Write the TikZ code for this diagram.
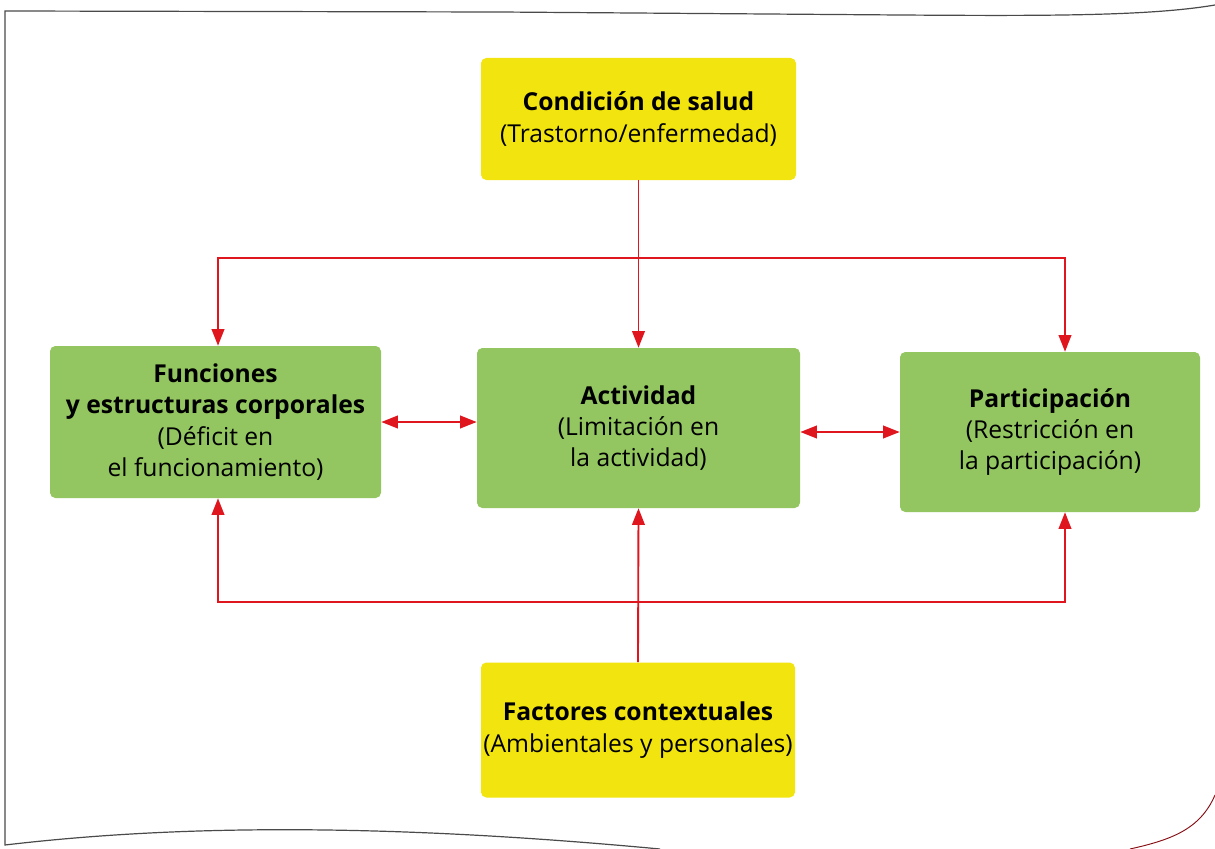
\documentclass[tikz,border=0pt]{standalone}
\usepackage{fontspec}
\setmainfont{Open Sans}
\usetikzlibrary{arrows.meta}
\definecolor{ylw}{HTML}{F2E50F}
\definecolor{grn}{HTML}{93C660}
\definecolor{arrred}{HTML}{E0161F}
\definecolor{framec}{HTML}{4A4A4A}
\begin{document}
\begin{tikzpicture}[x=0.75pt,y=-0.75pt,
  box/.style={rounded corners=4pt, inner sep=0pt, align=center, font=\fontsize{18.5}{23.5}\selectfont},
  ybox/.style={box, fill=ylw},
  gbox/.style={box, fill=grn},
  tip/.tip={Triangle[length=12.5pt,width=9.5pt]},
  arr/.style={draw=arrred, line width=1.4pt, -tip},
  darr/.style={draw=arrred, line width=1.4pt, tip-tip},
  frame/.style={draw=framec, line width=0.9pt}
]
\useasboundingbox (0,0) rectangle (1215,849);
\fill[white] (0,0) rectangle (1215,849);
% page frame
\draw[frame] (1215,5) .. controls (1150,16) and (1050,16) .. (900,15) -- (500,12) -- (5,11) -- (5,845)
  .. controls (150,828) and (350,820) .. (660,849);
\draw[arrred!60!black, line width=0.7pt] (1215,795) .. controls (1200,830) and (1170,840) .. (1130,849);

% boxes
\node[ybox, minimum width=236.25pt, minimum height=91.5pt] (cond) at (638.5,119)
  {\textbf{Condición de salud}\\(Trastorno/enfermedad)};
\node[ybox, minimum width=235.5pt, minimum height=101.25pt] (fact) at (638,730)
  {\textbf{Factores contextuales}\\(Ambientales y personales)};
\node[gbox, minimum width=248.25pt, minimum height=114pt] (func) at (215.5,422)
  {\textbf{Funciones}\\\textbf{y estructuras corporales}\\(Déficit en\\el funcionamiento)};
\node[gbox, minimum width=242.25pt, minimum height=120pt] (act) at (638.5,428)
  {\textbf{Actividad}\\(Limitación en\\la actividad)};
\node[gbox, minimum width=225pt, minimum height=120pt] (part) at (1050,432)
  {\textbf{Participación}\\(Restricción en\\la participación)};

% connectors
\draw[arr] (cond.south) -- (act.north);
\draw[arr] (fact.north) -- (act.south);
\coordinate (tl) at (218,258);
\coordinate (tr) at (1065,258);
\coordinate (bl) at (218,602);
\coordinate (br) at (1065,602);
\draw[darr] (func.north -| tl) -- (tl) -- (tr) -- (part.north -| tr);
\draw[darr] (func.south -| bl) -- (bl) -- (br) -- (part.south -| br);
\draw[darr] (func.east) -- (func.east -| act.west);
\draw[darr] (part.west -| act.east) -- (part.west);
\end{tikzpicture}
\end{document}
